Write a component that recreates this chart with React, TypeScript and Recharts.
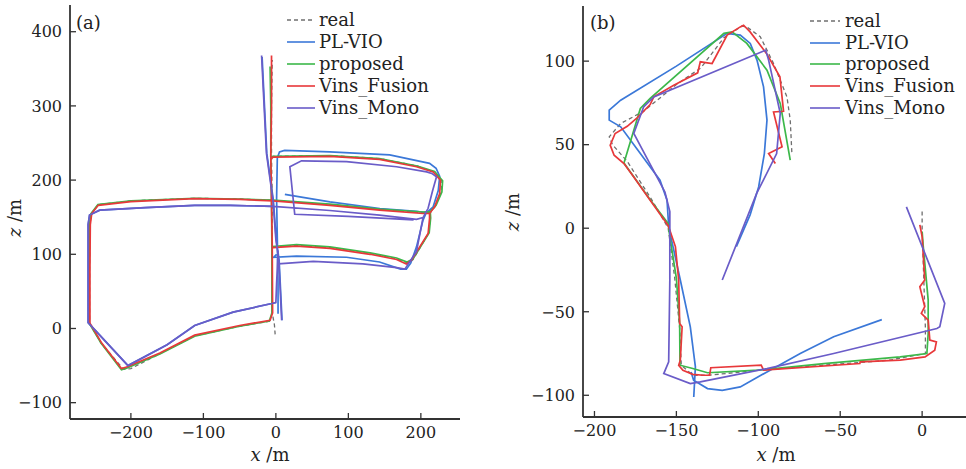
import React from 'react';
import { LineChart, Line, XAxis, YAxis } from 'recharts';

type Seg = number[][];

// ---------- Panel (a) ----------
const realA: Seg[] = [
  [[-1, -8], [-2, 5], [-5, 21], [-5, 110], [-5, 172], [-6, 232], [-6, 300], [-5, 362]],
  [[-8, 10], [-50, 3], [-112, -10], [-160, -34], [-200, -54], [-210, -55], [-241, -20], [-257, 7], [-257, 80], [-256.5, 140], [-254.5, 155], [-245, 167], [-200, 172], [-112, 175.5], [-50, 174.5], [-4, 172.5], [74.5, 167], [143, 160.5], [203, 156], [213, 156], [220, 165], [228, 184], [229, 199], [218, 211], [195, 219], [143, 229], [74.5, 233], [-4, 232], [-6, 230]],
  [[-4, 110], [28.5, 112], [74.5, 109], [130, 101], [166.5, 94], [181, 88.5], [189, 92.5], [211, 129], [213, 149], [213, 156]],
];
const plvioA: Seg[] = [
  [[-19, 366], [-12.5, 236], [-3.5, 173], [0.5, 120], [4.5, 92], [8.5, 11]],
  [[12.4, 180.7], [74.5, 170.7], [143.4, 161.7], [194, 158], [208, 156], [217, 164], [224, 186], [226, 205], [221, 216], [212, 222.6], [157, 234], [74.5, 238], [12, 240], [5, 238], [2, 230], [1, 175], [2, 120], [3, 60], [3, 20]],
  [[1, 100], [-3, 96], [28.5, 97.5], [97.5, 96], [143, 89.6], [172, 80], [180, 80], [186, 88], [194, 110], [203, 146], [207, 155]],
  [[0, 35], [-4, 34], [-59, 22], [-112, 4], [-150, -22], [-204, -50], [-259, 8], [-259, 80], [-259, 140], [-257, 153], [-243, 159.5], [-180, 163], [-112, 166], [-63, 166], [-4, 164.5]],
];
const proposedA: Seg[] = [
  [[-8, 353], [-7, 300], [-7, 232], [-6, 172], [-5.5, 110], [-5.5, 21], [-9, 10], [-50, 3], [-112, -10.5], [-160, -34.5], [-206, -53.5], [-213, -55.5], [-241, -20], [-257.5, 7], [-257.5, 80], [-257, 140], [-255, 155], [-245.5, 167], [-200, 172], [-112, 175.5], [-50, 174.5], [-4, 173], [74.5, 167.5], [143, 161], [203, 157], [213, 157.5], [221, 166], [229, 184], [230, 199], [219, 211.5], [195, 219], [143, 229], [74.5, 233], [-4, 232], [-7, 230]],
  [[-5, 110.5], [28.5, 113], [74.5, 110], [130, 102], [166.5, 95], [181, 89.5], [189, 93.5], [211.5, 129], [213.5, 149], [213, 157]],
];
const fusionA: Seg[] = [
  [[-6, 368], [-6, 300], [-7, 232], [-6, 172], [-5, 110], [-4.5, 21], [-8, 11], [-50, 4], [-112, -9], [-160, -33], [-206, -52], [-213, -54], [-240, -20], [-256.5, 7], [-256.5, 80], [-256, 140], [-254, 155], [-245, 166], [-200, 171], [-112, 175], [-50, 174], [-4, 172], [74.5, 166], [143, 159.5], [203, 155], [212, 155], [219, 164], [226, 182], [227, 200], [217, 211], [194, 218], [143, 228], [74.5, 232], [-4, 231], [-6, 229]],
  [[-4, 109], [28.5, 111], [74.5, 108], [130, 100], [166.5, 93], [180, 87], [187, 92], [210, 128], [212, 148], [212, 155]],
];
const monoA: Seg[] = [
  [[-19.7, 368], [-13, 236], [-4, 173], [0, 120], [4, 92], [8, 11]],
  [[3, 105], [1, 60], [0, 35], [-4, 34], [-59, 22], [-112, 4], [-150, -22], [-204, -50], [-259, 8], [-259, 80], [-259, 140], [-257, 153], [-243, 159.5], [-180, 163], [-112, 166], [-63, 166], [-4, 164.5], [74.5, 159], [143, 152.7], [194, 147], [203, 149.5], [210, 162], [216, 185], [221.6, 204.5], [215, 209], [208, 211], [166.5, 218], [97.5, 225], [35.4, 226], [19.3, 218], [26, 154], [100, 151], [190, 146.5]],
  [[203, 149.5], [194, 104], [178, 80], [166.5, 82], [120, 87], [51.5, 90.5], [3, 87]],
];

// ---------- Panel (b) ----------
const realB: Seg[] = [
  [[0, 10], [0, 0], [1, -30], [2, -60], [2, -75], [-20, -79], [-60, -82], [-100, -85], [-130, -88], [-140, -88], [-147, -82], [-148, -60], [-151, -30], [-155, 0], [-165, 17], [-180, 40], [-189, 50], [-191, 54.7], [-184, 62.7], [-170, 70], [-150, 86], [-135, 96], [-121, 114], [-110, 121], [-107, 120.5], [-98.8, 114.6], [-90.7, 98.6], [-82.5, 78.6], [-80.5, 64.7], [-79.5, 44.7]],
];
const plvioB: Seg[] = [
  [[-24.6, -54.7], [-54, -65], [-74.4, -75], [-94.7, -86], [-111, -95], [-122, -97], [-131, -96], [-139.5, -91], [-141, -86]],
  [[-139.4, -101], [-138.4, -83], [-141.5, -59], [-147.6, -31], [-154.7, 0.8], [-155.7, 16.8], [-160, 28.7], [-172, 44.7], [-184, 60.7], [-191, 64.7], [-191, 70.7], [-184, 76.6], [-150, 97], [-119, 116.6], [-111, 115.6], [-104.9, 110.6], [-100.8, 100.6], [-96.8, 84.6], [-94.7, 64.7], [-96.3, 44.7], [-99.8, 24.7], [-105, 8], [-113.4, -11]],
];
const proposedB: Seg[] = [
  [[0, -2], [0.6, -10], [3.7, -43], [3.7, -63], [2.9, -75], [-13.4, -77], [-60, -81], [-100, -85], [-131, -86.5], [-140, -84], [-147.8, -82], [-148, -57], [-150, -30], [-154, -5], [-155, 2.8], [-166, 17], [-182, 39], [-172, 71.7], [-166, 77.7], [-121, 116.6], [-116, 117.5], [-107, 110.6], [-94.7, 94.6], [-86.6, 74.7], [-80.5, 40.7]],
];
const fusionB: Seg[] = [
  [[-1.4, 2], [0, -5], [1.6, -31], [-1.4, -35], [1.6, -47], [-0.5, -51], [3.7, -55], [4.7, -67], [8.7, -68], [7.7, -73], [1.8, -77], [-13.4, -79], [-37.8, -80], [-38, -81], [-96.8, -85], [-98.2, -82], [-129, -83.5], [-129.7, -88], [-133.5, -88], [-140, -87.5], [-146, -85], [-148.6, -82], [-147.6, -79], [-146.5, -59], [-148, -57], [-148.6, -31], [-150.6, -11], [-154.7, 0.8], [-155.9, 2.8], [-166, 16.8], [-176, 30.7], [-182, 38.7], [-188, 43.7], [-190.4, 49.7], [-187.4, 56.7], [-180, 61], [-174, 66], [-166, 74], [-163.8, 78.6], [-151.6, 85.6], [-137, 93], [-135.4, 99.6], [-128.2, 98.6], [-119, 115.6], [-111, 120.5], [-109, 121.5], [-105, 117.5], [-95, 104.6], [-86.8, 90.6], [-84.6, 70], [-90.7, 69.6], [-85.5, 48.7], [-93.7, 44.7], [-89.6, 38.7]],
];
const monoB: Seg[] = [
  [[-9.6, 12.8], [13.8, -45], [10.8, -59], [9, -60], [-54, -75], [-94.7, -84], [-135.4, -92], [-141.5, -93], [-157.7, -87], [-154.7, -80], [-154, -31], [-154, 10], [-157, 21.7], [-176, 56.7], [-170, 72.6], [-163.8, 78.6], [-95.5, 106.6], [-93.7, 100.6], [-86.6, 68.7], [-88.8, 44.7], [-101, 20.8], [-122, -31]],
];

// ---------- axes ----------
const xTicksA = [-200, -100, 0, 100, 200];
const yTicksA = [-100, 0, 100, 200, 300, 400];
const xTicksB = [-200, -150, -100, -50, 0];
const yTicksB = [-100, -50, 0, 50, 100];

const SERIES = [
  { name: 'real', color: '#6f6f6f', dash: '4 3', width: 1.3 },
  { name: 'PL-VIO', color: '#3b78d8', dash: undefined, width: 1.7 },
  { name: 'proposed', color: '#3cb84a', dash: undefined, width: 1.7 },
  { name: 'Vins_Fusion', color: '#e8383a', dash: undefined, width: 1.7 },
  { name: 'Vins_Mono', color: '#6a5cc8', dash: undefined, width: 1.7 },
];

const FONT = '"DejaVu Serif", serif';
const AXIS = '#333';

const toPoints = (segs: Seg[]) => {
  const out: { x: number; y: number | null }[] = [];
  segs.forEach((s, i) => {
    if (i > 0) out.push({ x: s[0][0], y: null });
    s.forEach(([x, y]) => out.push({ x, y }));
  });
  return out;
};

const fmt = (v: number) => (v < 0 ? '\u2212' + Math.abs(v) : String(v));

const M = 8;
const XTick = (p: any) => (
  <g>
    <line x1={p.x} x2={p.x} y1={p.y - M} y2={p.y - M - 6} stroke={AXIS} strokeWidth={1.3} />
    <text x={p.x} y={p.y} dy="0.71em" textAnchor="middle" fontSize={16} fill="#222" fontFamily={FONT}>
      {fmt(p.payload.value)}
    </text>
  </g>
);
const YTick = (p: any) => (
  <g>
    <line x1={p.x + M} x2={p.x + M + 6} y1={p.y} y2={p.y} stroke={AXIS} strokeWidth={1.3} />
    <text x={p.x} y={p.y} dy="0.36em" textAnchor="end" fontSize={16} fill="#222" fontFamily={FONT}>
      {fmt(p.payload.value)}
    </text>
  </g>
);

type PanelProps = {
  width: number;
  margin: { top: number; right: number; bottom: number; left: number };
  yWidth: number;
  xHeight: number;
  xDomain: [number, number];
  yDomain: [number, number];
  xTicks: number[];
  yTicks: number[];
  sets: Seg[][];
};

const Panel = ({ width, margin, yWidth, xHeight, xDomain, yDomain, xTicks, yTicks, sets }: PanelProps) => (
  <LineChart width={width} height={469} margin={margin} style={{ fontFamily: FONT }}>
    <XAxis
      xAxisId="b"
      dataKey="x"
      type="number"
      domain={xDomain}
      ticks={xTicks}
      allowDataOverflow
      height={xHeight}
      tickSize={0}
      tickMargin={M}
      tickLine={false}
      tick={XTick}
      axisLine={{ stroke: AXIS, strokeWidth: 1.8 }}
      interval={0}
    />
    <XAxis
      xAxisId="t"
      orientation="top"
      type="number"
      domain={xDomain}
      allowDataOverflow
      height={0}
      tick={false}
      tickLine={false}
      axisLine={{ stroke: AXIS, strokeWidth: 1.8 }}
    />
    <YAxis
      yAxisId="l"
      type="number"
      domain={yDomain}
      ticks={yTicks}
      allowDataOverflow
      width={yWidth}
      tickSize={0}
      tickMargin={M}
      tickLine={false}
      tick={YTick}
      axisLine={{ stroke: AXIS, strokeWidth: 1.8 }}
      interval={0}
    />
    <YAxis
      yAxisId="r"
      orientation="right"
      type="number"
      domain={yDomain}
      allowDataOverflow
      width={0}
      tick={false}
      tickLine={false}
      axisLine={{ stroke: AXIS, strokeWidth: 1.8 }}
    />
    {SERIES.map((s, i) => (
      <Line
        key={s.name}
        xAxisId="b"
        yAxisId="l"
        name={s.name}
        data={toPoints(sets[i])}
        dataKey="y"
        type="linear"
        stroke={s.color}
        strokeWidth={s.width}
        strokeDasharray={s.dash}
        dot={false}
        activeDot={false}
        connectNulls={false}
        isAnimationActive={false}
      />
    ))}
  </LineChart>
);

const LegendBox = ({ x0, x1, tx, rows }: { x0: number; x1: number; tx: number; rows: number[] }) => (
  <g>
    {SERIES.map((s, i) => (
      <g key={s.name}>
        <line x1={x0} x2={x1} y1={rows[i]} y2={rows[i]} stroke={s.color} strokeWidth={1.6} strokeDasharray={s.dash} />
        <text x={tx} y={rows[i] + 6} fontSize={18} fill="#222" fontFamily={FONT}>
          {s.name}
        </text>
      </g>
    ))}
  </g>
);

const AxisTitleX = ({ x, y }: { x: number; y: number }) => (
  <text x={x} y={y} textAnchor="middle" fontSize={18} fill="#222" fontFamily={FONT}>
    <tspan fontStyle="italic">x</tspan> /m
  </text>
);
const AxisTitleY = ({ x, y }: { x: number; y: number }) => (
  <text x={x} y={y} textAnchor="middle" fontSize={18} fill="#222" fontFamily={FONT} transform={`rotate(-90 ${x} ${y})`}>
    <tspan fontStyle="italic">z</tspan> /m
  </text>
);

export default function App() {
  return (
    <div style={{ position: 'absolute', left: 0, top: 0, width: 966, height: 469, overflow: 'hidden', background: '#fff' }}>
      <div style={{ position: 'absolute', left: 0, top: 0 }}>
        <Panel
          width={470}
          margin={{ top: 5, right: 10, bottom: 0, left: 0 }}
          yWidth={70}
          xHeight={50}
          xDomain={[-284, 254]}
          yDomain={[-122, 436]}
          xTicks={xTicksA}
          yTicks={yTicksA}
          sets={[realA, plvioA, proposedA, fusionA, monoA]}
        />
      </div>
      <div style={{ position: 'absolute', left: 483, top: 0 }}>
        <Panel
          width={490}
          margin={{ top: 6, right: 5, bottom: 0, left: 0 }}
          yWidth={100}
          xHeight={52}
          xDomain={[-207, 28]}
          yDomain={[-113, 133]}
          xTicks={xTicksB}
          yTicks={yTicksB}
          sets={[realB, plvioB, proposedB, fusionB, monoB]}
        />
      </div>
      <svg width={966} height={469} style={{ position: 'absolute', left: 0, top: 0, pointerEvents: 'none' }}>
        <text x={76} y={29} fontSize={18} fill="#222" fontFamily={FONT}>(a)</text>
        <text x={590} y={29} fontSize={18} fill="#222" fontFamily={FONT}>(b)</text>
        <LegendBox x0={287} x1={315} tx={319} rows={[20, 42, 64, 86, 108]} />
        <LegendBox x0={810} x1={840} tx={845} rows={[21, 43, 64, 86, 108]} />
        <AxisTitleX x={270} y={461} />
        <AxisTitleX x={776} y={461} />
        <AxisTitleY x={21} y={218} />
        <AxisTitleY x={519} y={212} />
      </svg>
    </div>
  );
}
